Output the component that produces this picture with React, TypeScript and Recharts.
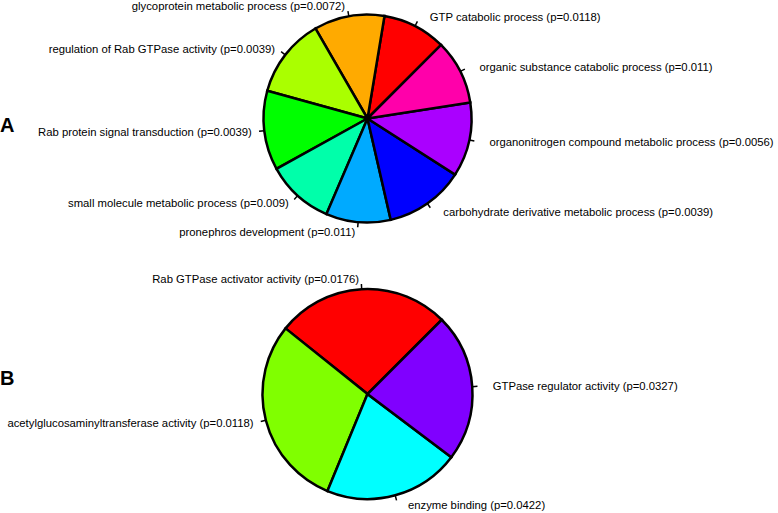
import React from 'react';
import { PieChart, Pie, Cell } from 'recharts';

const categoriesA = [
  'GTP catabolic process',
  'glycoprotein metabolic process',
  'regulation of Rab GTPase activity',
  'Rab protein signal transduction',
  'small molecule metabolic process',
  'pronephros development',
  'carbohydrate derivative metabolic process',
  'organonitrogen compound metabolic process',
  'organic substance catabolic process',
];
const pValuesA = ['0.0118', '0.0072', '0.0039', '0.0039', '0.009', '0.011', '0.0039', '0.0056', '0.011'];
const valuesA = [1.93, 2.14, 2.41, 2.41, 2.05, 1.96, 2.41, 2.25, 1.96];
const colorsA = ['#FF0000', '#FFAA00', '#AAFF00', '#00FF00', '#00FFAA', '#00AAFF', '#0000FF', '#AA00FF', '#FF00AA'];

const categoriesB = [
  'Rab GTPase activator activity',
  'acetylglucosaminyltransferase activity',
  'enzyme binding',
  'GTPase regulator activity',
];
const pValuesB = ['0.0176', '0.0118', '0.0422', '0.0327'];
const valuesB = [1.75, 1.93, 1.37, 1.49];
const colorsB = ['#FF0000', '#80FF00', '#00FFFF', '#8000FF'];

const dataA = categoriesA.map((c, i) => ({ name: `${c} (p=${pValuesA[i]})`, value: valuesA[i] }));
const dataB = categoriesB.map((c, i) => ({ name: `${c} (p=${pValuesB[i]})`, value: valuesB[i] }));

const FONT = '"Liberation Sans", Arial, sans-serif';
const RAD = Math.PI / 180;

const renderLabel = (props: any) => {
  const { cx, cy, midAngle, outerRadius, name } = props;
  const c = Math.cos(-midAngle * RAD);
  const s = Math.sin(-midAngle * RAD);
  const x1 = cx + outerRadius * c;
  const y1 = cy + outerRadius * s;
  const x2 = cx + outerRadius * 1.05 * c;
  const y2 = cy + outerRadius * 1.05 * s;
  const right = c >= 0;
  const tx = cx + outerRadius * 1.1 * c + (right ? 10 : -2);
  const ty = cy + outerRadius * 1.1 * s;
  return (
    <g>
      <line x1={x1} y1={y1} x2={x2} y2={y2} stroke="#000" strokeWidth={1.5} />
      <text
        x={tx}
        y={ty}
        textAnchor={right ? 'start' : 'end'}
        dominantBaseline="central"
        fontSize={11.3}
        fontFamily={FONT}
        fill="#000"
      >
        {name}
      </text>
    </g>
  );
};

export default function App() {
  return (
    <div style={{ position: 'absolute', left: 0, top: 0, width: 778, height: 513, background: '#fff' }}>
      <PieChart width={778} height={513} margin={{ top: 0, right: 0, bottom: 0, left: 0 }}>
        <Pie
          data={dataA}
          dataKey="value"
          nameKey="name"
          cx={367.5}
          cy={118.5}
          outerRadius={104}
          startAngle={45}
          endAngle={405}
          stroke="#000"
          strokeWidth={2.5}
          label={renderLabel}
          labelLine={false}
          isAnimationActive={false}
        >
          {dataA.map((d, i) => (
            <Cell key={d.name} fill={colorsA[i]} />
          ))}
        </Pie>
        <Pie
          data={dataB}
          dataKey="value"
          nameKey="name"
          cx={367.5}
          cy={394}
          outerRadius={105}
          startAngle={45}
          endAngle={405}
          stroke="#000"
          strokeWidth={2.5}
          label={renderLabel}
          labelLine={false}
          isAnimationActive={false}
        >
          {dataB.map((d, i) => (
            <Cell key={d.name} fill={colorsB[i]} />
          ))}
        </Pie>
      </PieChart>
      <div style={{ position: 'absolute', left: 0, top: 113, fontFamily: FONT, fontWeight: 'bold', fontSize: 20, lineHeight: '24px' }}>A</div>
      <div style={{ position: 'absolute', left: 0, top: 366, fontFamily: FONT, fontWeight: 'bold', fontSize: 20, lineHeight: '24px' }}>B</div>
    </div>
  );
}
